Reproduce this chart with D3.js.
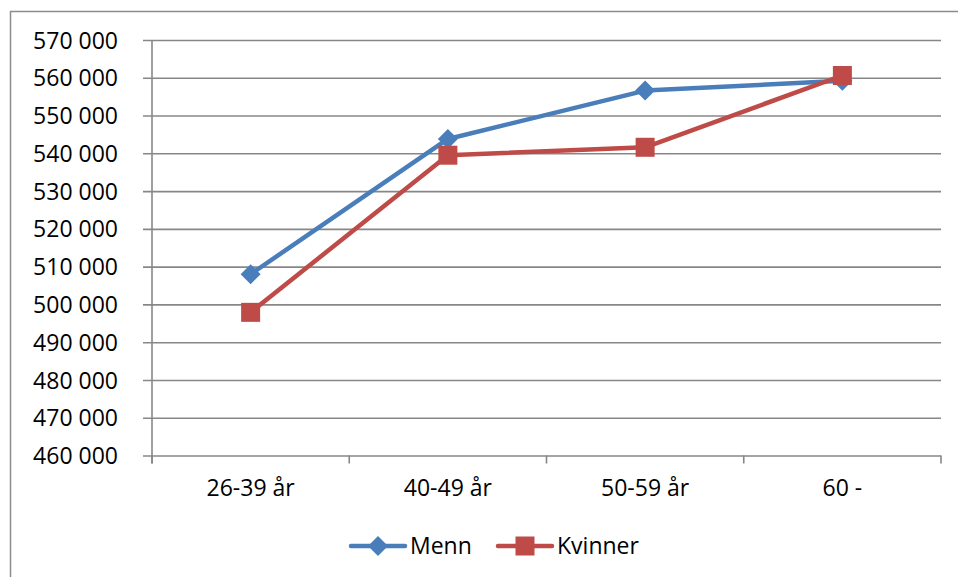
<!DOCTYPE html>
<html>
<head>
<meta charset="utf-8">
<script src="https://cdn.jsdelivr.net/npm/d3@7"></script>
<style>
  html, body { margin: 0; padding: 0; background: #fff; }
  svg { display: block; font-family: "Open Sans", "Liberation Sans", sans-serif; }
</style>
</head>
<body>
<svg id="chart" width="958" height="577"></svg>
<script>
// Age groups and average income per group
const categories = ["26-39 år", "40-49 år", "50-59 år", "60 -"];
const menn = [508000, 543800, 556600, 559200];
const kvinner = [497900, 539500, 541600, 560600];
const yTicks = [460000, 470000, 480000, 490000, 500000, 510000, 520000, 530000, 540000, 550000, 560000, 570000];
const seriesNames = ["Menn", "Kvinner"];

const colors = { Menn: "#4a7ebb", Kvinner: "#be4b48" };
const gridColor = "#878787";

const svg = d3.select("#chart");
const plot = { left: 152, right: 941, top: 40, bottom: 455.5 };

// Outer chart frame
svg.append("rect")
  .attr("x", 10.5).attr("y", 11.5)
  .attr("width", 1000).attr("height", 1000)
  .attr("fill", "none").attr("stroke", "#8c8c8c").attr("stroke-width", 1.5);

const nb = d3.formatLocale({ decimal: ",", thousands: " ", grouping: [3], currency: ["", ""] });
const fmt = nb.format(",");

const x = d3.scaleBand().domain(categories).range([plot.left, plot.right]).padding(0);
const y = d3.scaleLinear().domain([460000, 570000]).range([plot.bottom, plot.top]);
const cx = c => x(c) + x.bandwidth() / 2;

// Horizontal gridlines with y tick labels
const yAxis = svg.append("g")
  .attr("transform", `translate(${plot.left},0)`)
  .call(d3.axisLeft(y).tickValues(yTicks).tickFormat(fmt)
    .tickSizeInner(-(plot.right - plot.left)).tickSizeOuter(0).tickPadding(34));
yAxis.select(".domain").remove();
yAxis.selectAll(".tick line")
  .attr("stroke", gridColor).attr("stroke-width", 1.6)
  .attr("x1", -9);
yAxis.selectAll(".tick text")
  .attr("fill", "#000").attr("font-size", 23).attr("font-family", "'Open Sans', sans-serif")
  .attr("dy", "0.35em");

// Vertical axis line
svg.append("line")
  .attr("x1", plot.left).attr("x2", plot.left)
  .attr("y1", plot.top).attr("y2", plot.bottom + 8)
  .attr("stroke", gridColor).attr("stroke-width", 1.6);

// Category labels
const xAxis = svg.append("g")
  .attr("transform", `translate(0,${plot.bottom})`)
  .call(d3.axisBottom(x).tickSize(0).tickPadding(24));
xAxis.select(".domain").remove();
xAxis.selectAll(".tick text")
  .attr("fill", "#000").attr("font-size", 23).attr("font-family", "'Open Sans', sans-serif");

// Category boundary tick marks
svg.append("g").selectAll("line")
  .data(d3.range(categories.length + 1))
  .join("line")
  .attr("x1", i => plot.left + i * x.step())
  .attr("x2", i => plot.left + i * x.step())
  .attr("y1", plot.bottom).attr("y2", plot.bottom + 8)
  .attr("stroke", gridColor).attr("stroke-width", 1.6);

const data = { Menn: menn, Kvinner: kvinner };
const line = d3.line().x((d, i) => cx(categories[i])).y(d => y(d));

const diamond = s => `M0,${-s}L${s},0L0,${s}L${-s},0Z`;

function drawMarker(g, name, px, py) {
  if (name === "Menn") {
    g.append("path").attr("d", diamond(10))
      .attr("transform", `translate(${px},${py})`)
      .attr("fill", colors.Menn);
  } else {
    g.append("rect")
      .attr("x", px - 9.5).attr("y", py - 9.5).attr("width", 19).attr("height", 19)
      .attr("fill", colors.Kvinner);
  }
}

seriesNames.forEach(name => {
  const g = svg.append("g");
  g.append("path")
    .datum(data[name])
    .attr("d", line)
    .attr("fill", "none")
    .attr("stroke", colors[name])
    .attr("stroke-width", 4.5)
    .attr("stroke-linejoin", "round")
    .attr("stroke-linecap", "round");
  data[name].forEach((v, i) => drawMarker(g, name, cx(categories[i]), y(v)));
});

// Legend
const legendItems = [
  { name: "Menn", x0: 351 },
  { name: "Kvinner", x0: 498 }
];
const ly = 546;
legendItems.forEach(it => {
  const g = svg.append("g");
  g.append("line")
    .attr("x1", it.x0).attr("x2", it.x0 + 54)
    .attr("y1", ly).attr("y2", ly)
    .attr("stroke", colors[it.name]).attr("stroke-width", 4.5)
    .attr("stroke-linecap", "round");
  drawMarker(g, it.name, it.x0 + 27, ly);
  g.append("text")
    .attr("x", it.x0 + 59).attr("y", ly)
    .attr("dy", "0.35em")
    .attr("font-size", 23)
    .attr("fill", "#000")
    .text(it.name);
});
</script>
</body>
</html>
